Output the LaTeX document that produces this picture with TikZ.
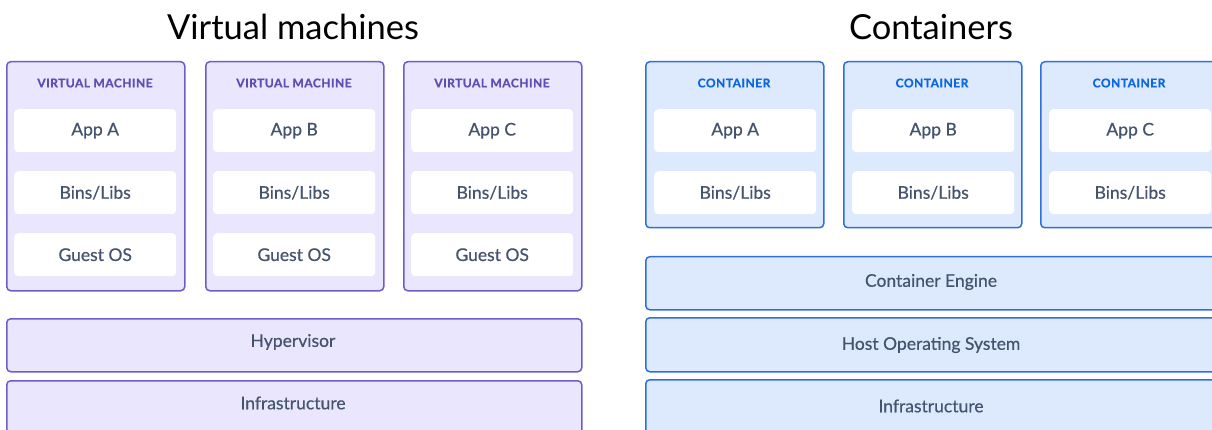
\documentclass[tikz,border=0pt]{standalone}
\usepackage{fontspec}
\setmainfont{Lato}
\newfontfamily\medfont{Lato}[FakeBold=0.5]
\newfontfamily\lblfont{Lato Bold}[LetterSpace=4,FakeBold=0.8]
\definecolor{vmfill}{HTML}{EAE6FD}
\definecolor{vmline}{HTML}{6E5DC6}
\definecolor{vmlabel}{HTML}{5E4DB2}
\definecolor{ctfill}{HTML}{DDE9FC}
\definecolor{ctline}{HTML}{2F6FDC}
\definecolor{ctlabel}{HTML}{0C66E4}
\definecolor{txt}{HTML}{44546F}
\tikzset{
  vmbox/.style={draw=vmline, fill=vmfill, line width=1.5pt, rounded corners=4pt, anchor=north west, inner sep=0pt},
  ctbox/.style={draw=ctline, fill=ctfill, line width=1.5pt, rounded corners=4pt, anchor=north west, inner sep=0pt},
  inbox/.style={fill=white, rounded corners=4pt, anchor=north west, minimum width=162pt, minimum height=43pt, inner sep=0pt, text=txt, font=\medfont\fontsize{17.5}{20}\selectfont},
  bartext/.style={text=txt, font=\medfont\fontsize{17.5}{20}\selectfont},
  boxlabel/.style={font=\lblfont\fontsize{12}{14}\selectfont},
  title/.style={font=\fontsize{34.5}{40}\selectfont, text=black}
}
\begin{document}
\begin{tikzpicture}[x=1pt,y=-1pt]
\useasboundingbox (0,0) rectangle (1212,430);
\begin{scope}
\clip (0,0) rectangle (1212,430);
% titles
\node[title] (t1) at (293,27) {Virtual machines};
\node[title] (t2) at (931,27) {Containers};
% VMs
\foreach \i/\x/\app in {1/6/A,2/205/B,3/403/C}{
  \node[vmbox, minimum width=178pt, minimum height=229pt] (vm\i) at (\x,61) {};
  \node[boxlabel, text=vmlabel] (vml\i) at (\x+89,83) {VIRTUAL MACHINE};
  \node[inbox] (vma\i) at (\x+8,109) {App \app};
  \node[inbox] (vmb\i) at (\x+8,171) {Bins/Libs};
  \node[inbox] (vmg\i) at (\x+8,233) {Guest OS};
}
\node[vmbox, minimum width=575pt, minimum height=53pt] (hyp) at (6,318) {};
\node[bartext] (hypt) at (293,342) {Hypervisor};
\node[vmbox, minimum width=575pt, minimum height=60pt] (inf1) at (6,380) {};
\node[bartext] (inf1t) at (293,403) {Infrastructure};
% Containers
\foreach \i/\x/\app in {1/645/A,2/843/B,3/1040/C}{
  \node[ctbox, minimum width=178pt, minimum height=166pt] (ct\i) at (\x,61) {};
  \node[boxlabel, text=ctlabel] (ctl\i) at (\x+89,83) {CONTAINER};
  \node[inbox] (cta\i) at (\x+9,109) {App \app};
  \node[inbox] (ctb\i) at (\x+9,171) {Bins/Libs};
}
\node[ctbox, minimum width=600pt, minimum height=53pt] (eng) at (645,256) {};
\node[bartext] (engt) at (931,282) {Container Engine};
\node[ctbox, minimum width=600pt, minimum height=54pt] (hos) at (645,317) {};
\node[bartext] (host) at (931,345) {Host Operating System};
\node[ctbox, minimum width=600pt, minimum height=60pt] (inf2) at (645,379) {};
\node[bartext] (inf2t) at (931,406) {Infrastructure};
\end{scope}
\end{tikzpicture}
\end{document}
